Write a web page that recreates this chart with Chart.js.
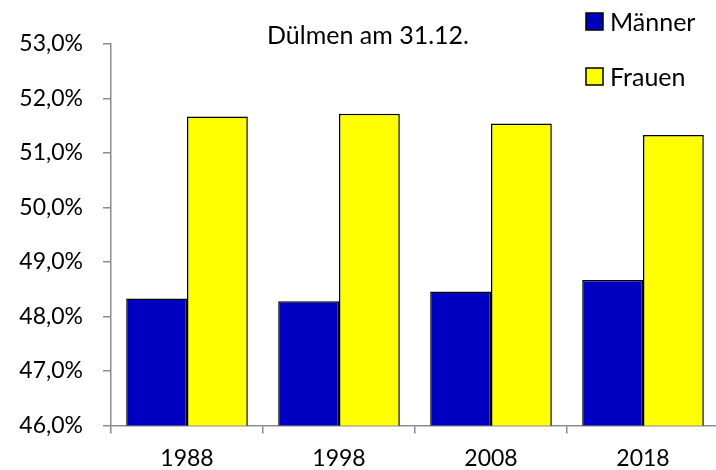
<!DOCTYPE html>
<html>
<head>
<meta charset="utf-8">
<script src="https://cdn.jsdelivr.net/npm/chart.js@4/dist/chart.umd.min.js"></script>
<style>
  html, body { margin: 0; padding: 0; background: #fff; overflow: hidden; }
  #wrap { width: 724px; height: 470px; position: relative; }
</style>
</head>
<body>
<div id="wrap"><canvas id="chart"></canvas></div>
<script>
// --- data ---
const years = ['1988', '1998', '2008', '2018'];
const maenner = [48.33, 48.28, 48.46, 48.67];
const frauen = [51.67, 51.72, 51.54, 51.33];
const chartTitle = 'Dülmen am 31.12.';

const FONT = 'Lato, "Open Sans", sans-serif';
const axisGrey = '#8c8c8c';

// title + legend drawn by hand (Excel style placement)
const decorPlugin = {
    id: 'decor',
    afterDraw(chart) {
        const ctx = chart.ctx;
        ctx.save();
        ctx.fillStyle = '#000';
        ctx.font = '25px ' + FONT;
        ctx.textAlign = 'center';
        ctx.textBaseline = 'alphabetic';
        ctx.fillText(chartTitle, 368, 44);

        const baselines = [31, 86];
        chart.data.datasets.forEach((ds, i) => {
            const y = baselines[i];
            ctx.fillStyle = ds.backgroundColor;
            ctx.fillRect(586, y - 18, 17, 17);
            ctx.strokeStyle = '#000';
            ctx.lineWidth = 1.5;
            ctx.strokeRect(586, y - 18, 17, 17);
            ctx.fillStyle = '#000';
            ctx.textAlign = 'left';
            ctx.fillText(ds.label, 610, y);
        });
        ctx.restore();
    }
};

new Chart(document.getElementById('chart'), {
    type: 'bar',
    data: {
        labels: years,
        datasets: [{
            label: 'Männer',
            data: maenner,
            backgroundColor: '#0000c0',
            borderColor: '#000',
            borderWidth: 1.5
        }, {
            label: 'Frauen',
            data: frauen,
            backgroundColor: '#ffff00',
            borderColor: '#000',
            borderWidth: 1.5
        }]
    },
    options: {
        responsive: true,
        maintainAspectRatio: false,
        animation: false,
        layout: { padding: { top: 44, right: 5, left: 0, bottom: 0 } },
        datasets: { bar: { categoryPercentage: 0.8, barPercentage: 1.0 } },
        plugins: {
            legend: { display: false },
            title: { display: false },
            tooltip: { enabled: false }
        },
        scales: {
            x: {
                grid: { display: true, drawOnChartArea: false, drawTicks: true, tickLength: 8, color: axisGrey, lineWidth: 1.5, offset: true },
                border: { display: true, color: axisGrey, width: 1.5 },
                ticks: { color: '#000', font: { family: FONT, size: 23 }, padding: 11 },
                afterFit(scale) { scale.height = 44.5; }
            },
            y: {
                min: 46,
                max: 53,
                grid: { display: true, drawOnChartArea: false, drawTicks: true, tickLength: 8, color: axisGrey, lineWidth: 1.5 },
                border: { display: true, color: axisGrey, width: 1.5 },
                ticks: {
                    stepSize: 1,
                    color: '#000',
                    font: { family: FONT, size: 23 },
                    padding: 20,
                    callback: v => v.toFixed(1).replace('.', ',') + '%'
                },
                afterFit(scale) { scale.width = 111; }
            }
        }
    },
    plugins: [decorPlugin]
});
</script>
</body>
</html>
